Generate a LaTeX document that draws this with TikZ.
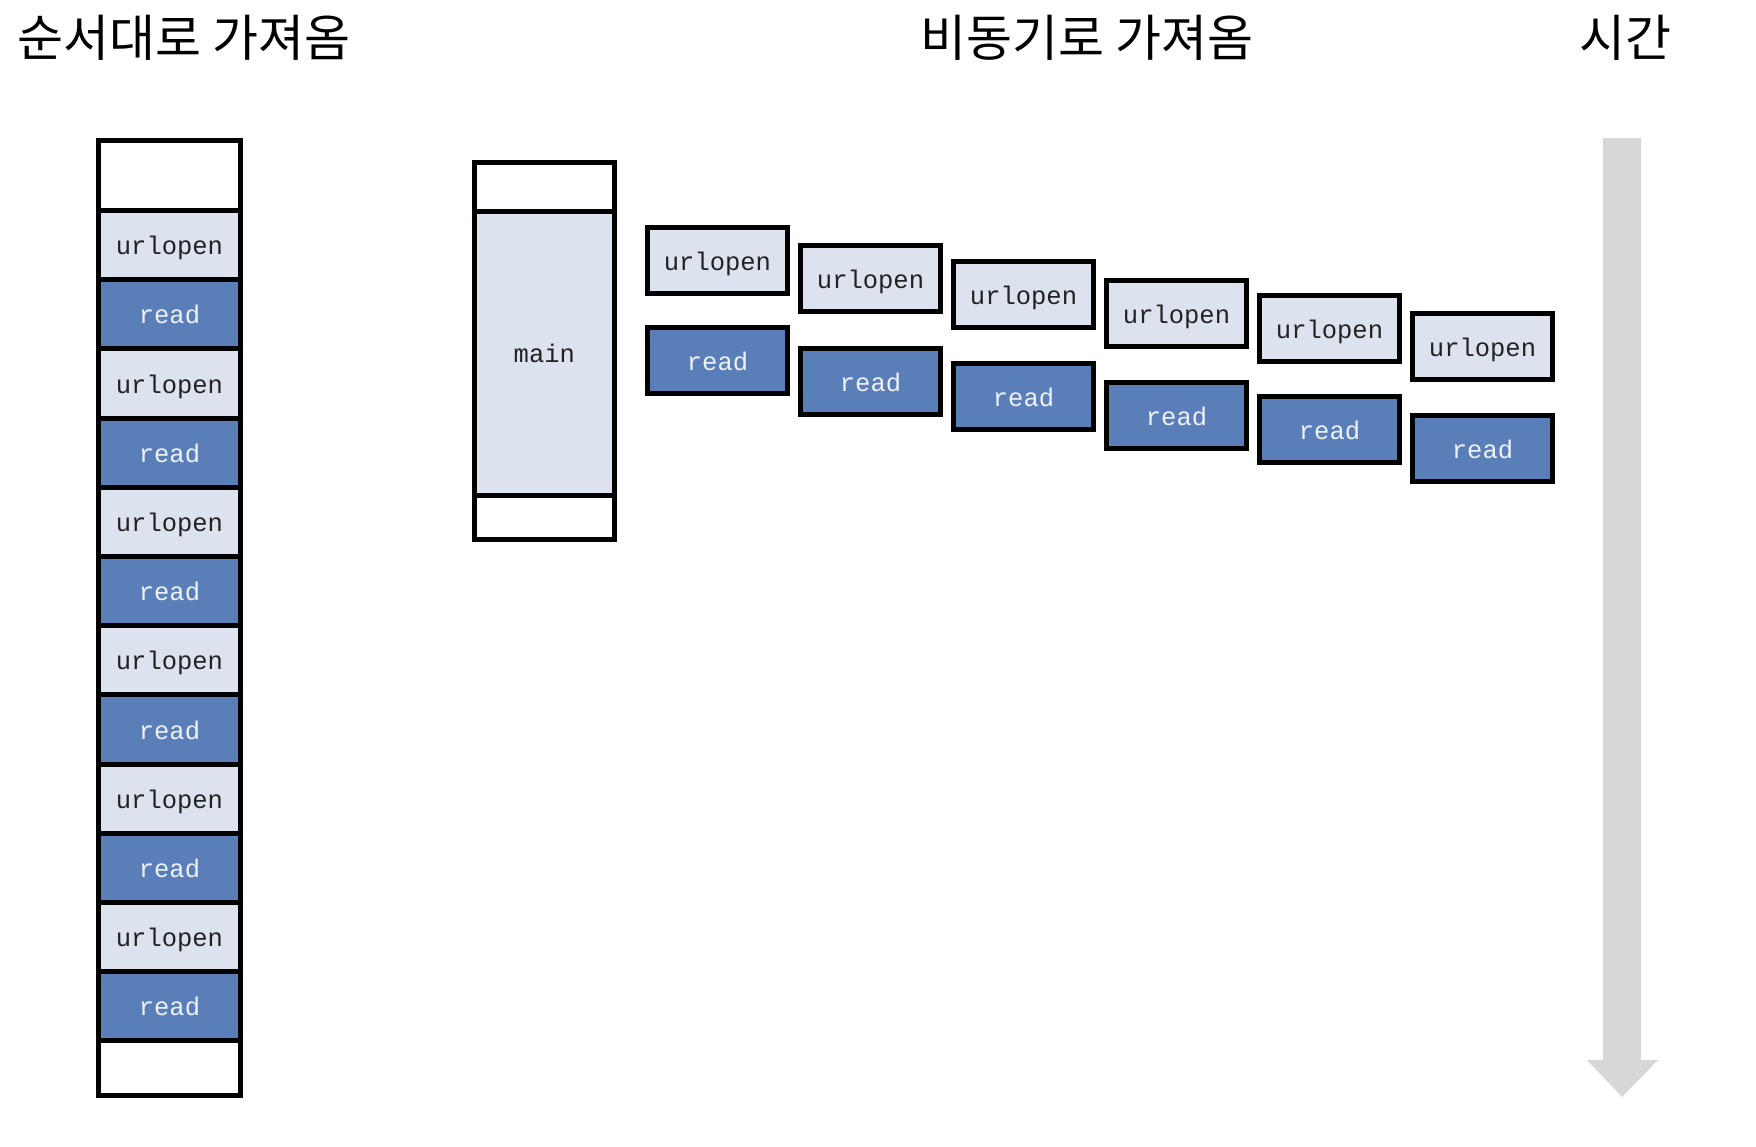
\documentclass[tikz,border=0pt]{standalone}
\usepackage{fontspec}
\newfontfamily\cjk{Noto Sans CJK KR}
\newfontfamily\monof{Liberation Mono}
\definecolor{lightcell}{HTML}{DDE3EE}
\definecolor{darkcell}{HTML}{5A7EB8}
\definecolor{readtxt}{HTML}{EEF2F8}
\definecolor{urltxt}{HTML}{222222}
\definecolor{timegray}{HTML}{D7D7D7}
\begin{document}
\begin{tikzpicture}[x=1pt,y=-1pt,
  monotext/.style={font=\monof\fontsize{25.5}{30}\selectfont,text height=19pt,text depth=0pt},
  cell/.style={draw=black,line width=5pt,inner sep=0pt,outer sep=0pt,minimum width=142pt,anchor=north},
  urlcell/.style={cell,fill=lightcell,text=urltxt,monotext},
  readcell/.style={cell,fill=darkcell,text=readtxt,monotext},
  whitecell/.style={cell,fill=white},
  abox/.style={draw=black,line width=5pt,inner sep=0pt,outer sep=0pt,minimum width=140pt,minimum height=66pt,monotext},
  aurl/.style={abox,fill=lightcell,text=urltxt},
  aread/.style={abox,fill=darkcell,text=readtxt},
  title/.style={font=\cjk\fontsize{50}{56}\selectfont,inner sep=0pt,anchor=west}]
\useasboundingbox (0,0) rectangle (1756,1146);
% titles
\node[title] (t1) at (17,38) {순서대로 가져옴};
\node[title] (t2) at (920,38) {비동기로 가져옴};
\node[title] (t3) at (1579,38) {시간};
% sequential column
\node[whitecell,minimum height=70pt] (s0) at (169.5,140.5) {};
\foreach \i in {0,...,5}{
  \node[urlcell,minimum height=69.2pt] (su\i) at (169.5,{210.5+138.4*\i}) {urlopen};
  \node[readcell,minimum height=69.2pt] (sr\i) at (169.5,{279.7+138.4*\i}) {read};
}
\node[whitecell,minimum height=54.6pt] (s13) at (169.5,1040.9) {};
% main column
\node[cell,fill=white,minimum width=140.5pt,minimum height=48.5pt] (m0) at (544.3,162.5) {};
\node[cell,fill=lightcell,text=urltxt,monotext,minimum width=140.5pt,minimum height=284pt] (main) at (544.3,211) {main};
\node[cell,fill=white,minimum width=140.5pt,minimum height=44pt] (m2) at (544.3,495) {};
% async boxes
\foreach \i/\yu/\yr in {0/260.5/360.5,1/278.5/381.5,2/294.5/396.5,3/313.5/415.5,4/328.5/429.5,5/346.5/448.5}{
  \node[aurl] (au\i) at ({717.5+153*\i},\yu) {urlopen};
  \node[aread] (ar\i) at ({717.5+153*\i},\yr) {read};
}
% time arrow
\fill[timegray] (1603,138) -- (1641,138) -- (1641,1060) -- (1658,1060) -- (1622,1097) -- (1587,1060) -- (1603,1060) -- cycle;
\end{tikzpicture}
\end{document}
